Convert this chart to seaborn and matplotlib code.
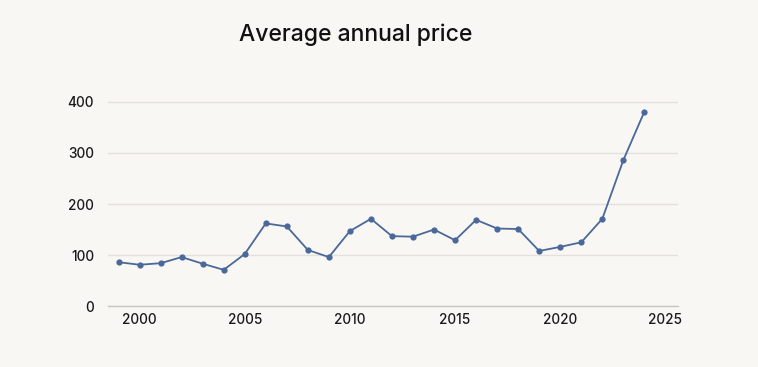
import matplotlib.pyplot as plt
import numpy as np
import pandas as pd
import seaborn as sns

years = list(range(1999, 2025))
prices = [86, 81, 84, 96, 83, 71, 102, 162, 156, 110, 96, 147, 171, 137,
          136, 150, 129, 169, 152, 151, 108, 116, 125, 171, 286, 381]
y_ticks = [0, 100, 200, 300, 400]
x_ticks = [2000, 2005, 2010, 2015, 2020, 2025]

df = pd.DataFrame({'year': years, 'price': prices})

sns.set_theme(style="white")
plt.rcParams['font.family'] = ['Inter', 'DejaVu Sans']

bg = '#f9f7f3'
fig = plt.figure(figsize=(7.58, 3.67), dpi=100, facecolor=bg)
ax = fig.add_axes([0.1425, 0.166, 0.752, 0.584], facecolor=bg)

sns.lineplot(data=df, x='year', y='price', ax=ax, color='#4a6899',
             linewidth=1.3, marker='o', markersize=4.5,
             markeredgewidth=0, zorder=3)

ax.set_xlim(1998.5, 2025.6)
ax.set_ylim(0, 420)
ax.set_yticks(y_ticks)
ax.set_xticks(x_ticks)
ax.tick_params(axis='both', length=0, labelsize=9.8, colors='#1a1a1a')
ax.tick_params(axis='y', pad=10)
ax.tick_params(axis='x', pad=5)
for lbl in ax.get_xticklabels() + ax.get_yticklabels():
    lbl.set_fontweight('medium')
ax.grid(axis='y', color='#e4e1dc', linewidth=1)
ax.set_axisbelow(True)
for s in ['top', 'right', 'left']:
    ax.spines[s].set_visible(False)
ax.spines['bottom'].set_color('#c9c7c3')
ax.spines['bottom'].set_linewidth(1)
ax.set_xlabel('')
ax.set_ylabel('')

fig.text(0.469, 0.905, 'Average annual price', ha='center', va='center',
         fontsize=16.5, fontweight='medium', color='#111111')

fig.savefig('out.png', dpi=100, facecolor=bg)
